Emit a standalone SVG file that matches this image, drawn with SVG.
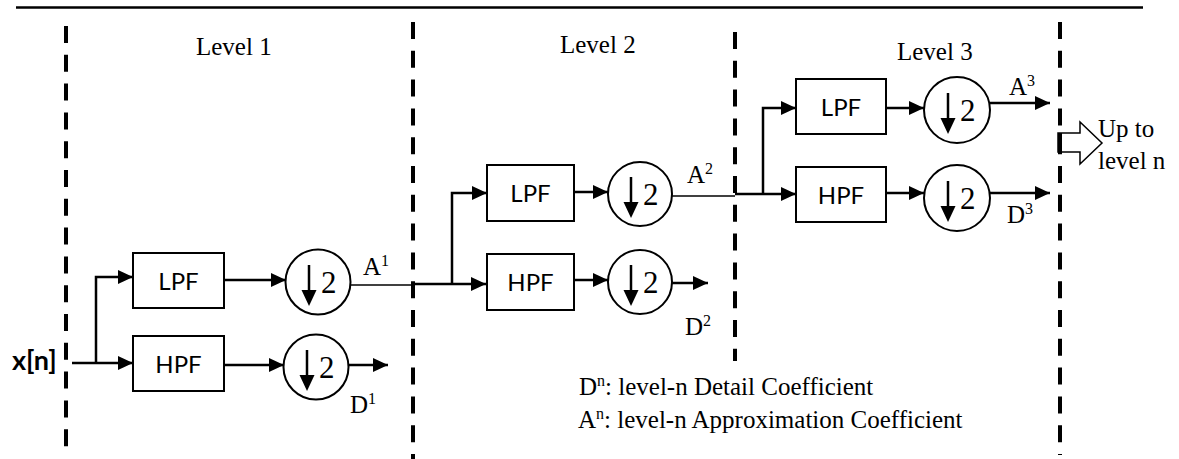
<svg xmlns="http://www.w3.org/2000/svg" width="1179" height="459" viewBox="0 0 1179 459">
<defs>
<marker id="ah" markerUnits="userSpaceOnUse" markerWidth="16" markerHeight="14" refX="15" refY="7" orient="auto"><path d="M0,0 L15,7 L0,14 z" fill="#000"/></marker>
</defs>
<style>
.box{fill:#fff;stroke:#000;stroke-width:2}
.ds{fill:#fff;stroke:#000;stroke-width:2}
.sans{font-family:Lato,"Open Sans",sans-serif;font-size:24px;fill:#000;text-anchor:middle}
.serif{font-family:"Liberation Serif","Times New Roman",serif;font-size:25px;fill:#000}
.two{font-family:"Liberation Serif","Times New Roman",serif;font-size:31px;fill:#000}
.stem{stroke:#000;stroke-width:2.5;fill:none}
.wire{fill:none;stroke:#000;stroke-width:2.5}
.thin{fill:none;stroke:#000;stroke-width:1.5}
.dash{stroke:#000;stroke-width:4;stroke-dasharray:17 11.8;fill:none}
</style>
<rect width="1179" height="459" fill="#fff"/>
<line x1="16" y1="7.5" x2="1143" y2="7.5" stroke="#000" stroke-width="2.5"/>
<g id="dividers">
<line class="dash" x1="66" y1="26" x2="66" y2="455"/>
<line class="dash" x1="413" y1="22" x2="413" y2="459"/>
<line class="dash" x1="735" y1="32" x2="735" y2="361"/>
<line class="dash" x1="1060" y1="22" x2="1060" y2="455"/>
</g>
<g id="level-titles" class="serif">
<text x="196" y="55">Level 1</text>
<text x="560" y="53">Level 2</text>
<text x="897" y="60">Level 3</text>
</g>
<g id="connectors">
<path class="wire" d="M72,363 H133" marker-end="url(#ah)"/>
<path class="wire" d="M96,363 V277 H133" marker-end="url(#ah)"/>
<path class="wire" d="M224,280 H286" marker-end="url(#ah)"/>
<path class="wire" d="M224,365 H284" marker-end="url(#ah)"/>
<path class="wire" d="M349,365 H388" marker-end="url(#ah)"/>
<path class="thin" d="M350,285 H413"/>
<path class="wire" d="M413,284 H486" marker-end="url(#ah)"/>
<path class="wire" d="M452,284 V193 H487" marker-end="url(#ah)"/>
<path class="wire" d="M574,192 H608" marker-end="url(#ah)"/>
<path class="wire" d="M574,280 H608" marker-end="url(#ah)"/>
<path class="wire" d="M672,283 H708" marker-end="url(#ah)"/>
<path class="thin" d="M672,196 H735"/>
<path class="wire" d="M735,194 H796" marker-end="url(#ah)"/>
<path class="wire" d="M763,194 V108 H796" marker-end="url(#ah)"/>
<path class="wire" d="M886,108 H924" marker-end="url(#ah)"/>
<path class="wire" d="M886,193 H924" marker-end="url(#ah)"/>
<path class="wire" d="M990,103 H1050" marker-end="url(#ah)"/>
<path class="wire" d="M990,193 H1050" marker-end="url(#ah)"/>
</g>
<g id="input"><text x="12" y="370" style="font-family:Lato,'Open Sans',sans-serif;font-size:27px;font-weight:bold">x[n]</text></g>
<g id="lpf1"><rect class="box" x="133" y="253" width="91" height="55"/><text class="sans" x="178.5" y="290">LPF</text></g>
<g id="hpf1"><rect class="box" x="133" y="336" width="91" height="55"/><text class="sans" x="178.5" y="373">HPF</text></g>
<g id="lpf2"><rect class="box" x="487" y="165" width="87" height="56"/><text class="sans" x="530.5" y="202">LPF</text></g>
<g id="hpf2"><rect class="box" x="487" y="254" width="87" height="56"/><text class="sans" x="530.5" y="291">HPF</text></g>
<g id="lpf3"><rect class="box" x="796" y="79" width="90" height="55"/><text class="sans" x="841" y="116">LPF</text></g>
<g id="hpf3"><rect class="box" x="796" y="167" width="90" height="55"/><text class="sans" x="841" y="204">HPF</text></g>
<g id="ds1a"><circle class="ds" cx="318" cy="282" r="32.5"/><path class="stem" d="M309,265 V292"/><path d="M301.5,290 H316.5 L309,306 z"/><text class="two" x="321" y="293">2</text></g>
<g id="ds1b"><circle class="ds" cx="316" cy="367" r="32.5"/><path class="stem" d="M307,350 V377"/><path d="M299.5,375 H314.5 L307,391 z"/><text class="two" x="319" y="378">2</text></g>
<g id="ds2a"><circle class="ds" cx="640" cy="194" r="32"/><path class="stem" d="M631,177 V204"/><path d="M623.5,202 H638.5 L631,218 z"/><text class="two" x="643" y="205">2</text></g>
<g id="ds2b"><circle class="ds" cx="640" cy="282" r="32"/><path class="stem" d="M631,265 V292"/><path d="M623.5,290 H638.5 L631,306 z"/><text class="two" x="643" y="293">2</text></g>
<g id="ds3a"><circle class="ds" cx="957" cy="110" r="33"/><path class="stem" d="M948,93 V120"/><path d="M940.5,118 H955.5 L948,134 z"/><text class="two" x="960" y="121">2</text></g>
<g id="ds3b"><circle class="ds" cx="957" cy="198" r="33"/><path class="stem" d="M948,181 V208"/><path d="M940.5,206 H955.5 L948,222 z"/><text class="two" x="960" y="209">2</text></g>
<g id="labels" class="serif">
<text x="363" y="275">A<tspan font-size="16" dy="-9">1</tspan></text>
<text x="350" y="413">D<tspan font-size="16" dy="-9">1</tspan></text>
<text x="687" y="183">A<tspan font-size="16" dy="-9">2</tspan></text>
<text x="685" y="335">D<tspan font-size="16" dy="-9">2</tspan></text>
<text x="1009" y="95">A<tspan font-size="16" dy="-9">3</tspan></text>
<text x="1007" y="223">D<tspan font-size="16" dy="-9">3</tspan></text>
</g>
<g id="up-to-level-n">
<polygon points="1058,133 1080,133 1080,122 1102,143 1080,164 1080,152 1058,152" fill="#fff" stroke="#000" stroke-width="1.5"/>
<line x1="1060" y1="133" x2="1060" y2="152" stroke="#000" stroke-width="4"/>
<text class="serif" x="1098" y="137">Up to</text>
<text class="serif" x="1098" y="169">level n</text>
</g>
<g id="legend" class="serif">
<text x="579" y="395">D<tspan font-size="16" dy="-9">n</tspan><tspan dy="9">: level-n Detail Coefficient</tspan></text>
<text x="578" y="428">A<tspan font-size="16" dy="-9">n</tspan><tspan dy="9">: level-n Approximation Coefficient</tspan></text>
</g>
</svg>
